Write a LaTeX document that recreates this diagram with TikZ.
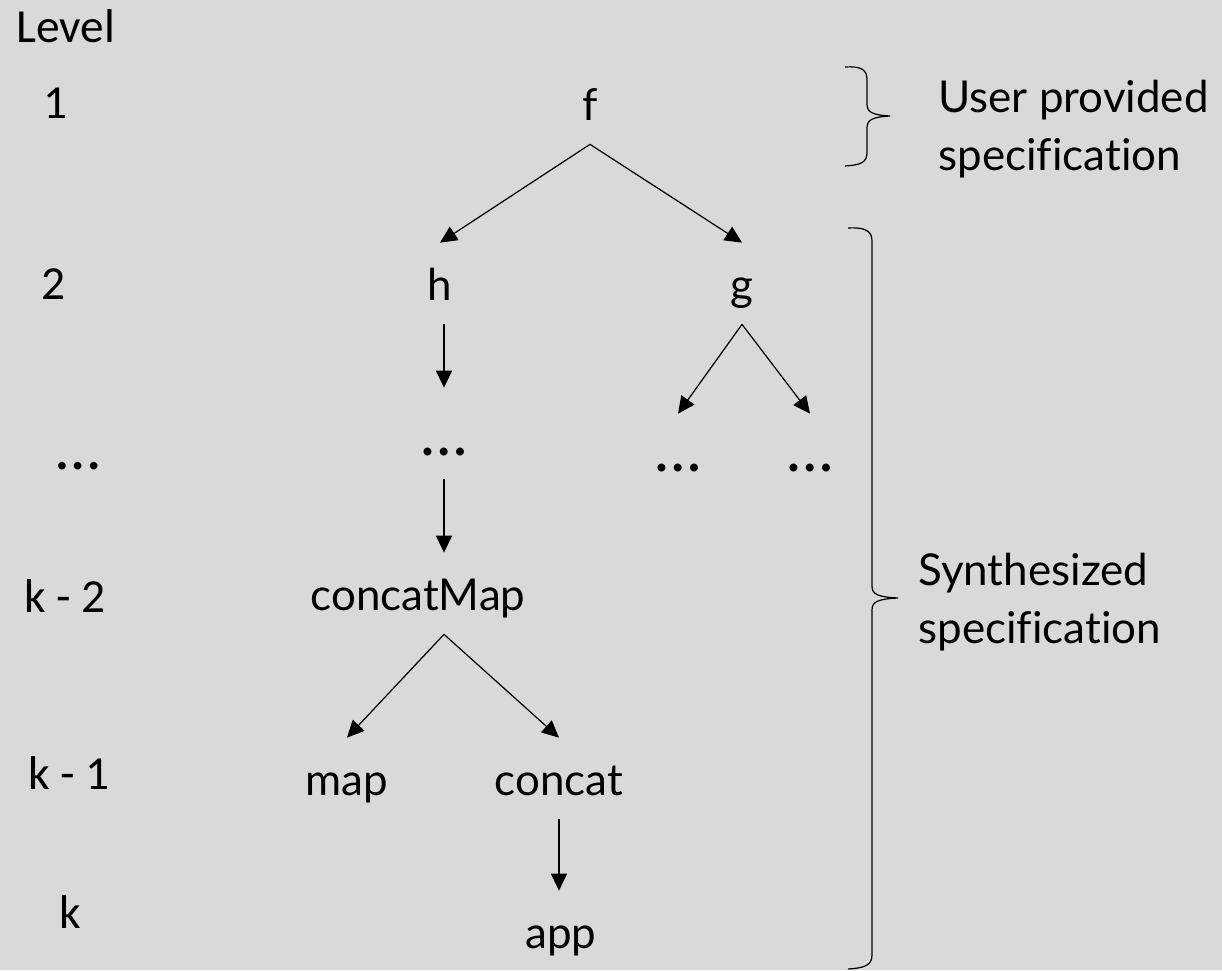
\documentclass[tikz,border=0pt]{standalone}
\usepackage{fontspec}
\setmainfont{Lato}[Ligatures=NoCommon]
\newfontfamily\lvlfont{Carlito}
\usepackage{tikz}
\usetikzlibrary{arrows.meta, positioning}

\definecolor{slidebg}{HTML}{D9D9D9}

\begin{document}
\begin{tikzpicture}[
    x=0.02cm, y=-0.02cm,
    lvl/.style={font=\lvlfont\fontsize{27}{32}\selectfont, anchor=base, inner sep=0pt},
    fn/.style={font=\fontsize{25}{30}\selectfont, anchor=base, text height=0.66cm, text depth=0pt, inner xsep=2pt, inner ysep=0.48cm},
    gap/.style={font=\fontsize{36}{40}\selectfont},
    side/.style={font=\fontsize{25}{33}\selectfont, align=left, anchor=base west, inner sep=0pt},
    arrow/.style={line width=0.7pt, -{Triangle[length=0.34cm, width=0.32cm]}},
    brace/.style={line width=0.7pt}
]
    \fill[slidebg] (0,0) rectangle (1222,970);
    \useasboundingbox (0,0) rectangle (1222,970);

    % level column
    \node[lvl, anchor=base west] (lvltitle) at (16,42) {Level};
    \node[lvl] (lvl1) at (56,118) {1};
    \node[lvl] (lvl2) at (54,299) {2};
    \node[lvl, font=\lvlfont\fontsize{36}{40}\selectfont] (lvldots) at (78,469) {\dots};
    \node[lvl] (lvlk2) at (65,612) {k - 2};
    \node[lvl] (lvlk1) at (69,789) {k - 1};
    \node[lvl] (lvlk) at (70,928) {k};

    % call tree
    \node[fn] (f) at (590,120) {f};
    \node[fn] (h) at (440,300) {h};
    \node[fn] (g) at (742,300) {g};
    \node[fn, gap] (hdots) at (444,455) {\dots};
    \node[fn, gap] (gdotsl) at (678,471) {\dots};
    \node[fn, gap] (gdotsr) at (810,471) {\dots};
    \node[fn] (cmap) at (418,610) {concatMap};
    \node[fn] (map) at (347,795) {map};
    \node[fn] (concat) at (559,795) {concat};
    \node[fn] (app) at (561,948) {app};

    \draw[arrow] (f.south) -- (h.north);
    \draw[arrow] (f.south) -- (g.north);
    \draw[arrow, shorten >=0.2cm] (hdots.north |- h.south) -- (hdots.north);
    \draw[arrow] (g.south) -- (gdotsl.north);
    \draw[arrow] (g.south) -- (gdotsr.north);
    \draw[arrow] (hdots.south) -- (hdots.south |- cmap.north);
    \draw[arrow] (cmap.south -| hdots) -- (map.north);
    \draw[arrow] (cmap.south -| hdots) -- (concat.north);
    \draw[arrow] (concat.south) -- (concat.south |- app.north);

    % braces and their labels
    \draw[brace] (845,67) .. controls (862,66) and (867,70) .. (867,80) -- (867,104)
        .. controls (867,112) and (872,115) .. (890,116)
        .. controls (872,117) and (867,120) .. (867,128) -- (867,152)
        .. controls (867,162) and (862,165) .. (845,166);
    \draw[brace] (848,228) .. controls (865,227) and (872,231) .. (872,241) -- (872,586)
        .. controls (872,594) and (877,597) .. (898,598)
        .. controls (877,599) and (872,602) .. (872,610) -- (872,955)
        .. controls (872,965) and (865,968) .. (848,969);
    \node[side] (userspec) at (938,170) {User provided\\specification};
    \node[side] (synthspec) at (918,643) {Synthesized\\specification};
\end{tikzpicture}
\end{document}
